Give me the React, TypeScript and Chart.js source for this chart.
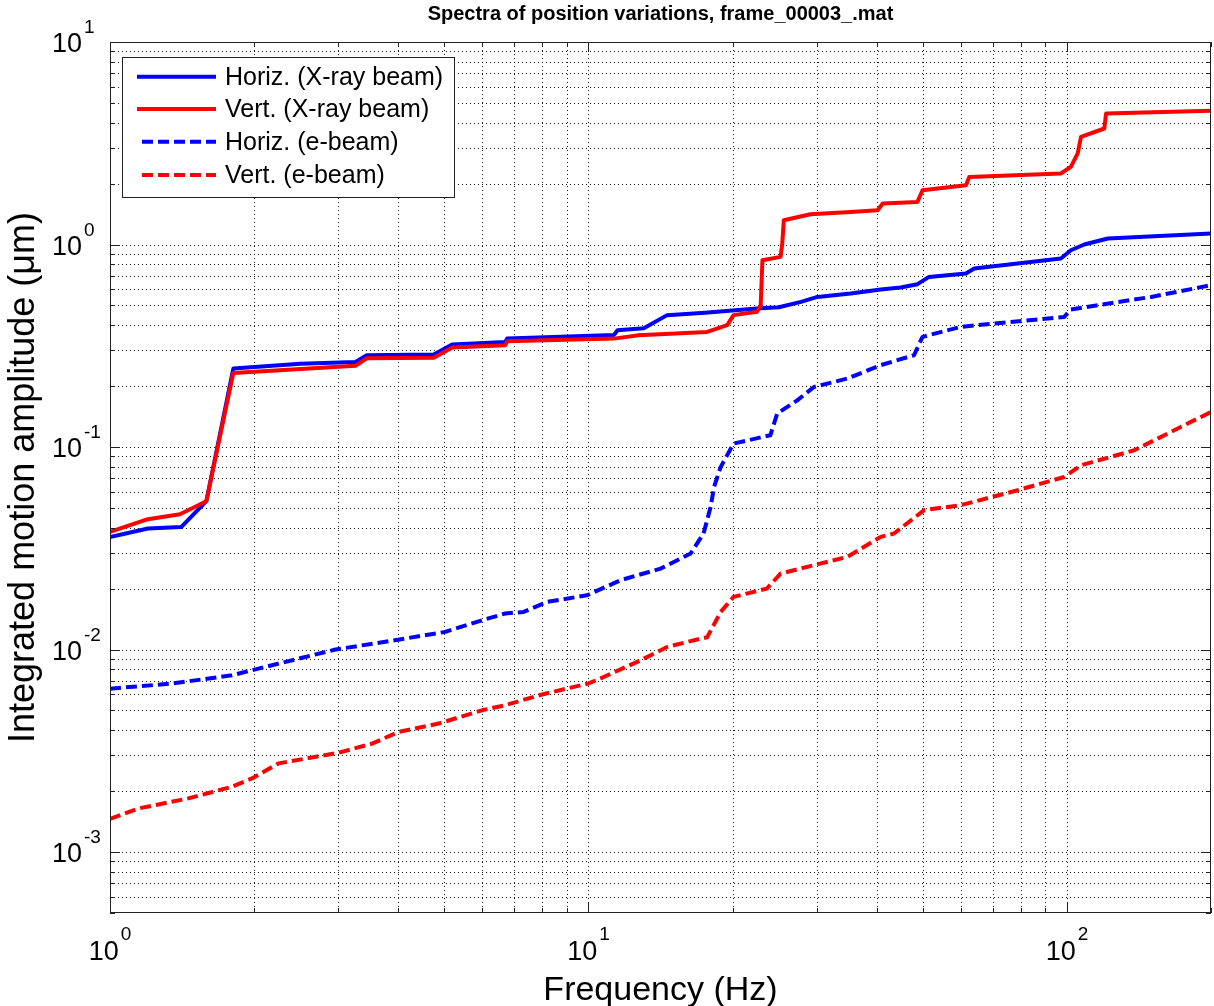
import React, { useEffect, useRef } from "react";
import { Chart, registerables } from "chart.js";

Chart.register(...registerables);

const TITLE = "Spectra of position variations, frame_00003_.mat";
const X_LABEL = "Frequency (Hz)";
const Y_LABEL = "Integrated motion amplitude (\u03bcm)";
const X_MIN = 1;
const X_MAX = 200;
const Y_MIN = 5e-4;
const Y_MAX = 10;
const X_TICK_EXPONENTS = [0, 1, 2];
const Y_TICK_EXPONENTS = [-3, -2, -1, 0, 1];

const SERIES_LABELS = [
  "Horiz. (X-ray beam)",
  "Vert. (X-ray beam)",
  "Horiz. (e-beam)",
  "Vert. (e-beam)",
];

// Horiz. (X-ray beam)
const hxFreq = [1, 1.2, 1.41, 1.59, 1.81, 2.5, 3.26, 3.44, 4.75, 5.19, 6.7, 6.76, 11.3, 11.5, 12.85, 13.05, 14.6, 17.5, 22.5, 25, 27.8, 30.1, 35.3, 40.8, 44.9, 48.7, 51.5, 61.5, 64, 97.1, 101.9, 108.7, 121.7, 200];
const hxAmp = [0.0359, 0.0396, 0.0403, 0.054, 0.244, 0.258, 0.263, 0.284, 0.286, 0.321, 0.33, 0.343, 0.357, 0.377, 0.385, 0.386, 0.448, 0.46, 0.483, 0.49, 0.521, 0.551, 0.573, 0.6, 0.613, 0.637, 0.692, 0.719, 0.761, 0.853, 0.937, 1.0, 1.07, 1.133];

// Vert. (X-ray beam)
const vxFreq = [1, 1.2, 1.4, 1.59, 1.81, 3.0, 3.26, 3.44, 4.75, 5.19, 6.7, 6.76, 11.3, 12.85, 13.05, 17.7, 19.5, 20.1, 22.5, 22.9, 23.1, 25.2, 25.4, 25.6, 29.1, 35.3, 40.2, 41.2, 48.7, 49.9, 61.5, 62.5, 97.1, 101.9, 105.3, 107, 119.7, 120.7, 200];
const vxAmp = [0.0381, 0.044, 0.0466, 0.054, 0.232, 0.249, 0.252, 0.274, 0.276, 0.31, 0.318, 0.333, 0.343, 0.357, 0.357, 0.37, 0.4, 0.448, 0.465, 0.5, 0.837, 0.869, 1.0, 1.318, 1.41, 1.449, 1.477, 1.594, 1.623, 1.854, 1.963, 2.157, 2.243, 2.416, 2.82, 3.4, 3.74, 4.43, 4.57];

// Horiz. (e-beam)
const heFreq = [1, 1.346, 1.797, 1.979, 2.56, 2.96, 4.14, 5.02, 5.99, 6.7, 7.32, 8.2, 9.94, 11.67, 14.15, 16.35, 17.4, 18.0, 18.3, 18.9, 20.1, 24.0, 24.8, 27.3, 29.6, 34.8, 40.8, 47.9, 49.9, 60, 70.4, 98.7, 101.9, 150, 200];
const heAmp = [0.00641, 0.00679, 0.00746, 0.0079, 0.00919, 0.01, 0.01133, 0.01222, 0.01395, 0.01506, 0.01534, 0.01718, 0.01854, 0.022, 0.0251, 0.0298, 0.0374, 0.0506, 0.0635, 0.0798, 0.104, 0.1144, 0.1463, 0.17, 0.198, 0.218, 0.2535, 0.284, 0.35, 0.392, 0.407, 0.439, 0.478, 0.551, 0.63];

// Vert. (e-beam)
const veFreq = [1, 1.146, 1.458, 1.797, 1.98, 2.25, 3.0, 3.53, 4.01, 4.86, 5.99, 6.7, 8.0, 10.0, 10.6, 12.85, 14.6, 17.2, 17.7, 18.9, 20.1, 23.6, 25.2, 29.6, 34.8, 40.8, 43.5, 50.3, 60, 78.9, 98.7, 107, 138.3, 162.4, 200];
const veAmp = [0.00146, 0.00164, 0.00184, 0.0021, 0.00231, 0.00274, 0.00309, 0.00343, 0.00392, 0.00431, 0.00501, 0.00531, 0.006, 0.0068, 0.0072, 0.00885, 0.0103, 0.01133, 0.0115, 0.01534, 0.0182, 0.02, 0.0237, 0.0261, 0.0287, 0.036, 0.0374, 0.0488, 0.0516, 0.0612, 0.0711, 0.0813, 0.0964, 0.1166, 0.149];

const BLUE = "#0000ff";
const RED = "#ff0000";
const DASH = [11, 5];
const FONT = "'Liberation Sans', Arial, Helvetica, sans-serif";

const pts = (fs: number[], vs: number[]) => fs.map((f, i) => ({ x: f, y: vs[i] }));

function decadeValues(minE: number, maxE: number, lo: number, hi: number) {
  const out: { v: number; major: boolean }[] = [];
  for (let e = minE; e <= maxE; e++) {
    for (let m = 1; m <= 9; m++) {
      const v = m * Math.pow(10, e);
      if (v >= lo * 0.9999 && v <= hi * 1.0001) out.push({ v, major: m === 1 });
    }
  }
  return out;
}

const matlabAxes = {
  id: "matlabAxes",
  beforeDatasetsDraw(chart: any) {
    const { ctx, chartArea, scales } = chart;
    const { left, right, top, bottom } = chartArea;
    const xs = scales.x;
    const ys = scales.y;
    ctx.save();
    ctx.strokeStyle = "rgba(0,0,0,0.9)";
    ctx.lineWidth = 1;
    ctx.setLineDash([1, 3]);
    for (const t of decadeValues(0, 2, X_MIN, X_MAX)) {
      const px = Math.round(xs.getPixelForValue(t.v)) + 0.5;
      if (px <= left + 1 || px >= right - 1) continue;
      ctx.beginPath();
      ctx.moveTo(px, top);
      ctx.lineTo(px, bottom);
      ctx.stroke();
    }
    for (const t of decadeValues(-4, 1, Y_MIN, Y_MAX)) {
      const py = Math.round(ys.getPixelForValue(t.v)) + 0.5;
      if (py <= top + 1 || py >= bottom - 1) continue;
      ctx.beginPath();
      ctx.moveTo(left, py);
      ctx.lineTo(right, py);
      ctx.stroke();
    }
    ctx.restore();
  },
  afterDatasetsDraw(chart: any) {
    const { ctx, chartArea, scales } = chart;
    const { left, right, top, bottom } = chartArea;
    const xs = scales.x;
    const ys = scales.y;
    ctx.save();
    ctx.setLineDash([]);
    ctx.strokeStyle = "#222";
    ctx.lineWidth = 1;
    // box
    ctx.strokeRect(Math.round(left) + 0.5, Math.round(top) + 0.5, Math.round(right - left) - 1, Math.round(bottom - top) - 1);
    // ticks
    ctx.beginPath();
    for (const t of decadeValues(0, 2, X_MIN, X_MAX)) {
      const px = Math.round(xs.getPixelForValue(t.v)) + 0.5;
      const len = t.major ? 10 : 5;
      ctx.moveTo(px, bottom);
      ctx.lineTo(px, bottom - len);
      ctx.moveTo(px, top);
      ctx.lineTo(px, top + len);
    }
    for (const t of decadeValues(-4, 1, Y_MIN, Y_MAX)) {
      const py = Math.round(ys.getPixelForValue(t.v)) + 0.5;
      const len = t.major ? 10 : 5;
      ctx.moveTo(left, py);
      ctx.lineTo(left + len, py);
      ctx.moveTo(right, py);
      ctx.lineTo(right - len, py);
    }
    ctx.stroke();

    // tick labels
    ctx.fillStyle = "#000";
    ctx.textBaseline = "alphabetic";
    const baseFont = `27px ${FONT}`;
    const supFont = `19px ${FONT}`;
    for (const e of Y_TICK_EXPONENTS) {
      const py = ys.getPixelForValue(Math.pow(10, e));
      ctx.font = baseFont;
      ctx.textAlign = "right";
      ctx.fillText("10", 82, py + 10);
      ctx.font = supFont;
      ctx.textAlign = "left";
      ctx.fillText(String(e), 84, py - 9);
    }
    for (const e of X_TICK_EXPONENTS) {
      const px = xs.getPixelForValue(Math.pow(10, e));
      ctx.font = baseFont;
      const w1 = ctx.measureText("10").width;
      ctx.font = supFont;
      const w2 = ctx.measureText(String(e)).width;
      const x0 = px - (w1 + 2 + w2) / 2;
      ctx.font = baseFont;
      ctx.textAlign = "left";
      ctx.fillText("10", x0, 960);
      ctx.font = supFont;
      ctx.fillText(String(e), x0 + w1 + 2, 940);
    }

    // axis labels
    ctx.font = `34px ${FONT}`;
    ctx.textAlign = "center";
    ctx.fillText(X_LABEL, (left + right) / 2, 1000);
    ctx.save();
    ctx.font = `36px ${FONT}`;
    ctx.translate(34, (top + bottom) / 2);
    ctx.rotate(-Math.PI / 2);
    ctx.fillText(Y_LABEL, 0, 0);
    ctx.restore();

    // title
    ctx.font = `bold 20px ${FONT}`;
    ctx.textAlign = "center";
    ctx.fillText(TITLE, (left + right) / 2, 20);

    // legend
    const lx = 122, ly = 57, lw = 332, lh = 140;
    ctx.fillStyle = "#fff";
    ctx.fillRect(lx, ly, lw, lh);
    ctx.strokeStyle = "#222";
    ctx.lineWidth = 1;
    ctx.strokeRect(lx + 0.5, ly + 0.5, lw, lh);
    const rows = [76.7, 109, 141.7, 175];
    const colors = [BLUE, RED, BLUE, RED];
    ctx.font = `25px ${FONT}`;
    ctx.textAlign = "left";
    ctx.textBaseline = "middle";
    SERIES_LABELS.forEach((lab, i) => {
      ctx.strokeStyle = colors[i];
      ctx.lineWidth = 4;
      ctx.setLineDash(i >= 2 ? DASH : []);
      ctx.beginPath();
      ctx.moveTo(i >= 2 ? 142 : 137, rows[i]);
      ctx.lineTo(216, rows[i]);
      ctx.stroke();
      ctx.fillStyle = "#000";
      ctx.fillText(lab, 225, rows[i] + 1);
    });
    ctx.restore();
  },
};

export default function App() {
  const ref = useRef<HTMLCanvasElement>(null);
  useEffect(() => {
    document.body.style.margin = "0";
    const canvas = ref.current!;
    const chart = new Chart(canvas, {
      type: "line",
      data: {
        datasets: [
          { label: SERIES_LABELS[0], data: pts(hxFreq, hxAmp), borderColor: BLUE, borderWidth: 4, order: 3 },
          { label: SERIES_LABELS[1], data: pts(vxFreq, vxAmp), borderColor: RED, borderWidth: 4, order: 2 },
          { label: SERIES_LABELS[2], data: pts(heFreq, heAmp), borderColor: BLUE, borderWidth: 4, borderDash: DASH, order: 1 },
          { label: SERIES_LABELS[3], data: pts(veFreq, veAmp), borderColor: RED, borderWidth: 4, borderDash: DASH, order: 0 },
        ].map((d) => ({ ...d, pointRadius: 0, tension: 0, fill: false, borderJoinStyle: "round" as const })),
      },
      options: {
        animation: false,
        responsive: false,
        devicePixelRatio: 1,
        layout: { padding: { left: 110, top: 42, right: 3, bottom: 93 } },
        plugins: { legend: { display: false }, title: { display: false }, tooltip: { enabled: false } },
        scales: {
          x: { type: "logarithmic", min: X_MIN, max: X_MAX, display: false },
          y: { type: "logarithmic", min: Y_MIN, max: Y_MAX, display: false },
        },
      },
      plugins: [matlabAxes],
    });
    return () => chart.destroy();
  }, []);
  return (
    <div style={{ width: 1214, height: 1006 }}>
      <canvas ref={ref} width={1214} height={1006} style={{ display: "block", width: 1214, height: 1006 }} />
    </div>
  );
}
